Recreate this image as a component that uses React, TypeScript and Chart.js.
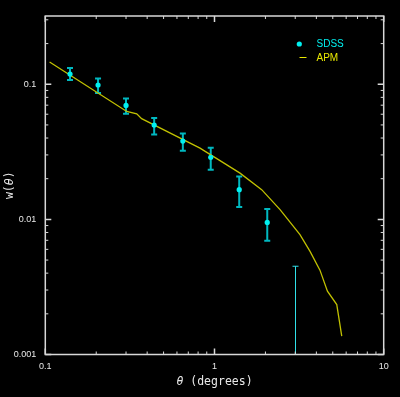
import { useEffect, useRef } from 'react';
import { Chart, registerables } from 'chart.js';

Chart.register(...registerables);

// SDSS measurements (theta in degrees, w(theta) with upper / lower error bounds)
const sdssTheta = [0.14, 0.205, 0.3, 0.44, 0.65, 0.95, 1.4, 2.05, 3.0];
const sdssW: (number | null)[] = [0.119, 0.0987, 0.0697, 0.0499, 0.038, 0.0288, 0.0166, 0.0095, null];
const sdssUpper = [0.1317, 0.1104, 0.0785, 0.0562, 0.0433, 0.0339, 0.0208, 0.01195, 0.0045];
const sdssLower: (number | null)[] = [0.1074, 0.0861, 0.0605, 0.0425, 0.0322, 0.0233, 0.01236, 0.00696, null];

// APM curve
const apmTheta = [0.106, 0.303, 0.347, 0.371, 0.821, 1.415, 1.9, 2.44, 3.2, 3.67, 4.2, 4.65, 5.28, 5.65];
const apmW = [0.146, 0.0629, 0.0605, 0.0556, 0.0337, 0.022, 0.0166, 0.0118, 0.00771, 0.0058, 0.00421, 0.00294, 0.00234, 0.00137];

// Axes
const xRange = [0.1, 10];
const yRange = [0.001, 0.32];
const xMajorTicks = [0.1, 1, 10];
const xTickLabels = ['0.1', '1', '10'];
const yMajorTicks = [0.001, 0.01, 0.1];
const yTickLabels = ['0.001', '0.01', '0.1'];
const seriesNames = ['SDSS', 'APM'];

const CYAN = '#00f0f0';
const CYAN_BAR = '#00b8c0';
const YELLOW_LINE = '#c0c000';
const YELLOW_TEXT = '#e8e800';
const FRAME = '#d8d8d8';
const TEXT = '#e8e8e8';

function labelFor(values: number[], labels: string[], v: number) {
  const i = values.findIndex((t) => Math.abs(t - v) / t < 1e-6);
  return i >= 0 ? labels[i] : '';
}

const decorPlugin = {
  id: 'decor',
  beforeDatasetsDraw(chart: any) {
    const { ctx, chartArea, scales } = chart;
    const xs = scales.x;
    const ys = scales.y;
    ctx.save();
    ctx.beginPath();
    ctx.rect(chartArea.left, chartArea.top, chartArea.right - chartArea.left, chartArea.bottom - chartArea.top);
    ctx.clip();
    for (let i = 0; i < sdssTheta.length; i++) {
      const thin = sdssW[i] == null;
      let px = xs.getPixelForValue(sdssTheta[i]);
      if (thin) px = Math.round(px) + 0.5;
      const top = ys.getPixelForValue(sdssUpper[i]);
      const lo = sdssLower[i];
      const bot = lo == null ? chartArea.bottom : ys.getPixelForValue(lo);
      ctx.strokeStyle = thin ? '#30e0e8' : CYAN_BAR;
      ctx.lineWidth = thin ? 1 : 2;
      ctx.beginPath();
      ctx.moveTo(px, top);
      ctx.lineTo(px, bot);
      ctx.moveTo(px - 3, top);
      ctx.lineTo(px + 3, top);
      if (lo != null) {
        ctx.moveTo(px - 3, bot);
        ctx.lineTo(px + 3, bot);
      }
      ctx.stroke();
    }
    ctx.restore();
  },
  afterDraw(chart: any) {
    const { ctx, chartArea, scales } = chart;
    const { left, right, top, bottom } = chartArea;
    const xs = scales.x;
    const ys = scales.y;
    ctx.save();
    // frame
    ctx.strokeStyle = FRAME;
    ctx.lineWidth = 1.5;
    ctx.strokeRect(left, top, right - left, bottom - top);
    // ticks
    const eachTick = (min: number, max: number, fn: (v: number, major: boolean) => void) => {
      for (let d = Math.floor(Math.log10(min)); d <= Math.ceil(Math.log10(max)); d++) {
        for (let m = 1; m <= 9; m++) {
          const v = m * Math.pow(10, d);
          if (v >= min * (1 - 1e-9) && v <= max * (1 + 1e-9)) fn(v, m === 1);
        }
      }
    };
    eachTick(xRange[0], xRange[1], (v, major) => {
      const px = xs.getPixelForValue(v);
      const len = major ? 6 : 3;
      ctx.lineWidth = major ? 1.5 : 1;
      ctx.beginPath();
      ctx.moveTo(px, bottom);
      ctx.lineTo(px, bottom - len);
      ctx.moveTo(px, top);
      ctx.lineTo(px, top + len);
      ctx.stroke();
    });
    eachTick(yRange[0], yRange[1], (v, major) => {
      const py = ys.getPixelForValue(v);
      const len = major ? 6 : 3;
      ctx.lineWidth = major ? 1.5 : 1;
      ctx.beginPath();
      ctx.moveTo(left, py);
      ctx.lineTo(left + len, py);
      ctx.moveTo(right, py);
      ctx.lineTo(right - len, py);
      ctx.stroke();
    });

    // axis titles
    const mono = '"DejaVu Sans Mono", monospace';
    ctx.fillStyle = TEXT;
    ctx.textBaseline = 'middle';
    ctx.textAlign = 'left';
    const drawParts = (parts: { t: string; f: string }[], cx: number, cy: number) => {
      let w = 0;
      parts.forEach((p) => {
        ctx.font = p.f;
        w += ctx.measureText(p.t).width;
      });
      let x = cx - w / 2;
      parts.forEach((p) => {
        ctx.font = p.f;
        ctx.fillText(p.t, x, cy);
        x += ctx.measureText(p.t).width;
      });
    };
    drawParts(
      [
        { t: '\u03b8', f: `italic 11.5px ${mono}` },
        { t: ' (degrees)', f: `11.5px ${mono}` },
      ],
      (left + right) / 2,
      382.5
    );
    ctx.save();
    ctx.translate(9.7, (top + bottom) / 2);
    ctx.rotate(-Math.PI / 2);
    drawParts(
      [
        { t: 'w(', f: `11.5px ${mono}` },
        { t: '\u03b8', f: `italic 11.5px ${mono}` },
        { t: ')', f: `11.5px ${mono}` },
      ],
      0,
      0
    );
    ctx.restore();

    // legend
    ctx.font = '10px "Liberation Sans", Arial, sans-serif';
    ctx.fillStyle = CYAN;
    ctx.beginPath();
    ctx.arc(299.3, 44, 2.6, 0, Math.PI * 2);
    ctx.fill();
    ctx.fillText(seriesNames[0], 316.5, 44.5);
    ctx.strokeStyle = YELLOW_TEXT;
    ctx.lineWidth = 1;
    ctx.beginPath();
    ctx.moveTo(299.5, 57.5);
    ctx.lineTo(306.5, 57.5);
    ctx.stroke();
    ctx.fillStyle = YELLOW_TEXT;
    ctx.fillText(seriesNames[1], 316.5, 57.8);
    ctx.restore();
  },
};

export default function App() {
  const ref = useRef<HTMLCanvasElement | null>(null);
  useEffect(() => {
    if (!ref.current) return;
    const tickFont = { family: '"Liberation Sans", Arial, sans-serif', size: 9 };
    const chart = new Chart(ref.current, {
      type: 'scatter',
      data: {
        datasets: [
          {
            label: seriesNames[0],
            data: sdssTheta.map((x, i) => ({ x, y: sdssW[i] as any })),
            pointRadius: 2.6,
            pointBackgroundColor: CYAN,
            pointBorderWidth: 0,
            showLine: false,
            order: 0,
          },
          {
            label: seriesNames[1],
            data: apmTheta.map((x, i) => ({ x, y: apmW[i] })),
            showLine: true,
            borderColor: YELLOW_LINE,
            borderWidth: 1.3,
            pointRadius: 0,
            fill: false,
            order: 1,
          },
        ],
      },
      options: {
        responsive: false,
        animation: false,
        events: [],
        layout: { padding: { top: 16, right: 16.3, left: 0, bottom: 0 } },
        plugins: { legend: { display: false }, tooltip: { enabled: false } },
        scales: {
          x: {
            type: 'logarithmic',
            min: xRange[0],
            max: xRange[1],
            grid: { display: false, drawTicks: false },
            border: { display: false },
            ticks: {
              color: TEXT,
              font: tickFont,
              padding: 7,
              autoSkip: false,
              maxRotation: 0,
              callback: (v: any) => labelFor(xMajorTicks, xTickLabels, Number(v)),
            },
            afterBuildTicks: (s: any) => {
              s.ticks = xMajorTicks.map((value) => ({ value }));
            },
            afterFit: (s: any) => {
              s.height = 42.5;
            },
          },
          y: {
            type: 'logarithmic',
            min: yRange[0],
            max: yRange[1],
            grid: { display: false, drawTicks: false },
            border: { display: false },
            ticks: {
              color: TEXT,
              font: tickFont,
              padding: 9,
              autoSkip: false,
              callback: (v: any) => labelFor(yMajorTicks, yTickLabels, Number(v)),
            },
            afterBuildTicks: (s: any) => {
              s.ticks = yMajorTicks.map((value) => ({ value }));
            },
            afterFit: (s: any) => {
              s.width = 45.3;
            },
          },
        },
      },
      plugins: [decorPlugin],
    });
    return () => chart.destroy();
  }, []);
  return (
    <div style={{ position: 'fixed', left: 0, top: 0, width: 400, height: 397, background: '#000' }}>
      <canvas ref={ref} width={400} height={397} style={{ display: 'block' }} />
    </div>
  );
}
